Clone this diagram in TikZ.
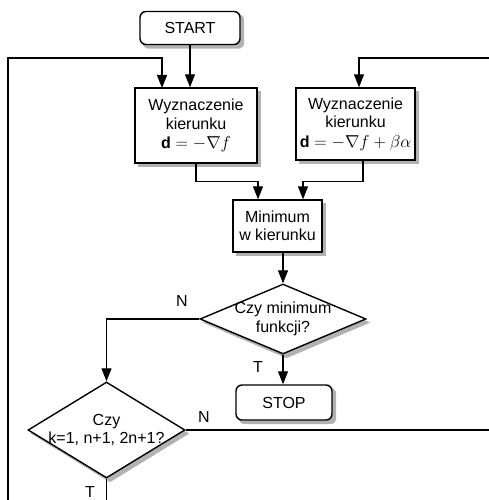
\documentclass[tikz,border=0pt]{standalone}
\usepackage{amsmath}
\usepackage{fontspec}
\setmainfont{Liberation Sans}
\usetikzlibrary{positioning,shapes.geometric,arrows.meta,backgrounds}

\tikzset{
  blok/.style={draw,line width=1.4pt,fill=white,align=center,inner sep=1pt},
  term/.style={blok,rounded corners=6pt},
  decyzja/.style={draw,diamond,line width=1.4pt,fill=white,inner sep=0pt},
  cien/.style={fill=gray!60},
  linia/.style={line width=1.2pt},
  strz/.style={linia,-{Triangle[length=13pt,width=10pt]}},
  etyk/.style={inner sep=0pt}
}

\begin{document}
\begin{tikzpicture}[x=1pt,y=-1pt,font=\fontsize{16}{18.5}\selectfont]
            \useasboundingbox (0,0) rectangle (489,500);
            \node[term,minimum width=100pt,minimum height=33pt] (start) at (190,28) {START};
            \node[blok,minimum width=122pt,minimum height=75pt] (kier1) at (196,125.5) {Wyznaczenie\\kierunku\\[1pt]$\mathbf{d}=-\nabla f$};
            \node[blok,minimum width=119pt,minimum height=72pt] (kier2) at (355.5,124) {Wyznaczenie\\kierunku\\[1pt]$\mathbf{d}=-\nabla f+\beta\alpha$};
            \node[blok,minimum width=89pt,minimum height=52pt] (mink) at (277.5,226) {Minimum\\w kierunku};
            \node[decyzja,minimum width=166pt,minimum height=70pt] (czymin) at (283,319) {};
            \node[align=center] (tmin) at (czymin) {Czy minimum\\funkcji?};
            \node[term,minimum width=96pt,minimum height=35pt] (stop) at (284,402.5) {STOP};
            \node[decyzja,minimum width=157pt,minimum height=96pt] (czyk) at (106.5,430) {};
            \node[align=center] (tk) at (czyk) {Czy\\k=1, n+1, 2n+1?};
            % cienie
            \begin{scope}[on background layer]
              \foreach \n in {kier1,kier2,mink}
                \fill[cien] ([shift={(3.5,3.5)}]\n.south west) rectangle ([shift={(3.5,3.5)}]\n.north east);
              \foreach \n in {start,stop}
                \fill[cien,rounded corners=6pt] ([shift={(3.5,3.5)}]\n.south west) rectangle ([shift={(3.5,3.5)}]\n.north east);
              \foreach \n in {czymin,czyk}
                \fill[cien] ([shift={(3.5,3.5)}]\n.north) -- ([shift={(3.5,3.5)}]\n.east) -- ([shift={(3.5,3.5)}]\n.south) -- ([shift={(3.5,3.5)}]\n.west) -- cycle;
            \end{scope}
            % wejscia i wyjscia poza kadrem
            \coordinate (lewe) at (8,510);
            \coordinate (prawe) at (495,58);
            \coordinate (wyjN) at (495,430);
            \coordinate (wyjT) at (106.5,510);
            \draw[strz] (lewe) |- (162,58) -- (162,88);
            \draw[strz] (start) -- (start.south |- kier1.north);
            \draw[strz] (prawe) -| ([xshift=3.5pt]kier2.north);
            \draw[strz] (kier1.south) -- ++(0,18) -| ([xshift=-19.5pt]mink.north);
            \draw[strz] ([xshift=7.5pt]kier2.south) -- ++(0,21) -| ([xshift=25.5pt]mink.north);
            \draw[strz] (czymin.north |- mink.south) -- (czymin.north);
            \draw[strz] (czymin.south) -- (czymin.south |- stop.north);
            \draw[strz] (czymin.west) -| (czyk.north);
            \draw[linia] (czyk.east) -- (wyjN);
            \draw[linia] (czyk.south) -- (wyjT);
            \node[etyk] (n1) at (182,301) {N};
            \node[etyk] (t1) at (258,367) {T};
            \node[etyk] (n2) at (204,417) {N};
            \node[etyk] (t2) at (90,492) {T};
        \end{tikzpicture}
\end{document}
